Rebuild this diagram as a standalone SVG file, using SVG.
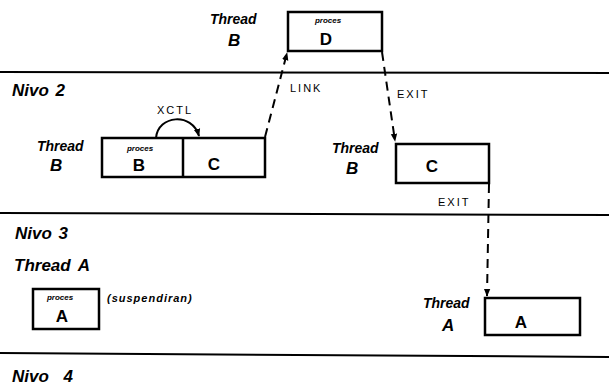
<svg xmlns="http://www.w3.org/2000/svg" width="609" height="387" viewBox="0 0 609 387">
<style>
  .box { fill: #fff; stroke: #000; stroke-width: 2.5; }
  .lvl { stroke: #000; stroke-width: 2; fill: none; }
  .hw { font-family: "Liberation Sans", Arial, sans-serif; font-style: italic; font-weight: bold; fill: #000; }
  .big { font-size: 17px; }
  .th { font-size: 14px; }
  .let { font-family: "Liberation Sans", Arial, sans-serif; font-weight: bold; font-size: 17px; fill: #000; text-anchor: middle; }
  .pr { font-family: "Liberation Sans", Arial, sans-serif; font-weight: bold; font-style: italic; font-size: 8px; fill: #000; text-anchor: middle; }
  .lbl { font-family: "Liberation Sans", Arial, sans-serif; font-size: 11px; fill: #000; letter-spacing: 2px; }
  .dash { stroke: #000; stroke-width: 2; fill: none; stroke-dasharray: 9 6; }
  .solid { stroke: #000; stroke-width: 2; fill: none; }
</style>
<defs>
  <marker id="ah" viewBox="0 0 10 10" refX="9" refY="5" markerWidth="4" markerHeight="5" orient="auto" markerUnits="strokeWidth">
    <path d="M0,1 L10,5 L0,9 z" fill="#000"/>
  </marker>
</defs>
<rect width="609" height="387" fill="#fff"/>

<g id="levels">
  <line class="lvl" x1="0" y1="72" x2="609" y2="73"/>
  <line class="lvl" x1="0" y1="213" x2="609" y2="215"/>
  <line class="lvl" x1="0" y1="353" x2="609" y2="357"/>
  <text class="hw big" x="12" y="96" word-spacing="2">Nivo 2</text>
  <text class="hw big" x="15" y="239" word-spacing="2">Nivo 3</text>
  <text class="hw big" x="12" y="382" word-spacing="10">Nivo 4</text>
</g>

<g id="threadA-label">
  <text class="hw big" x="14" y="271" word-spacing="3">Thread A</text>
</g>

<g id="nodeD">
  <text class="hw th" x="210" y="24">Thread</text>
  <text class="hw big" x="228" y="46">B</text>
  <rect class="box" x="288" y="12" width="94" height="39"/>
  <text class="pr" x="328" y="23">proces</text>
  <text class="let" x="326" y="45">D</text>
</g>

<g id="nodeBC">
  <text class="hw th" x="37" y="151">Thread</text>
  <text class="hw big" x="50" y="171">B</text>
  <rect class="box" x="102" y="138" width="163" height="39"/>
  <line class="solid" x1="183" y1="138" x2="183" y2="177" style="stroke-width:2.5"/>
  <text class="pr" x="140" y="151">proces</text>
  <text class="let" x="139" y="171">B</text>
  <text class="let" x="214" y="170">C</text>
</g>

<g id="nodeC2">
  <text class="hw th" x="332" y="153">Thread</text>
  <text class="hw big" x="346" y="174">B</text>
  <rect class="box" x="396" y="144" width="93" height="39"/>
  <text class="let" x="432" y="172">C</text>
</g>

<g id="nodeA">
  <rect class="box" x="33" y="289" width="66" height="40"/>
  <text class="pr" x="60" y="300">proces</text>
  <text class="let" x="62" y="322">A</text>
  <text class="hw" x="107" y="302" style="font-size:11px;letter-spacing:1px">(suspendiran)</text>
</g>

<g id="nodeA2">
  <text class="hw th" x="423" y="308">Thread</text>
  <text class="hw big" x="442" y="331">A</text>
  <rect class="box" x="485" y="298" width="95" height="37"/>
  <text class="let" x="521" y="328">A</text>
</g>

<g id="connectors">
  <path class="solid" d="M156,138 C158,115 192,112 199,136" marker-end="url(#ah)"/>
  <text class="lbl" x="157" y="114">XCTL</text>
  <line class="dash" x1="265" y1="137" x2="287" y2="53" marker-end="url(#ah)"/>
  <text class="lbl" x="290" y="92">LINK</text>
  <line class="dash" x1="382" y1="52" x2="395" y2="141" marker-end="url(#ah)"/>
  <text class="lbl" x="397" y="98">EXIT</text>
  <line class="dash" x1="489" y1="184" x2="487" y2="296" marker-end="url(#ah)"/>
  <text class="lbl" x="438" y="206">EXIT</text>
</g>
</svg>
